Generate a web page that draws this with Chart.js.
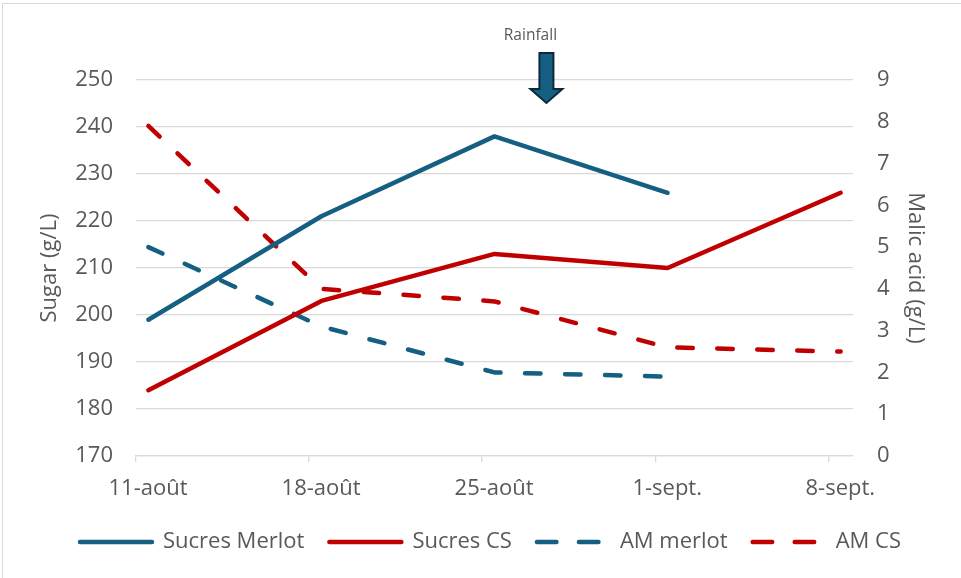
<!DOCTYPE html>
<html>
<head>
<meta charset="utf-8">
<script src="https://cdn.jsdelivr.net/npm/chart.js@4"></script>
<style>
  html, body { margin: 0; padding: 0; background: #fff; }
  #wrap { position: relative; width: 961px; height: 578px; }
  #frame {
    position: absolute; left: 2px; top: 3px; right: -5px; bottom: -5px;
    border-left: 1px solid #d9d9d9; border-top: 1px solid #d9d9d9;
    pointer-events: none;
  }
</style>
</head>
<body>
<div id="wrap">
  <canvas id="chart"></canvas>
  <div id="frame"></div>
</div>
<script>
// dates sampled, and days elapsed since 11-août
const dates = ["11-août", "18-août", "25-août", "1-sept.", "8-sept."];
const days = [0, 7, 14, 21, 28];

// sugar (g/L), left axis
const sucresMerlot = [199, 221, 238, 226, null];
const sucresCS = [184, 203, 213, 210, 226];

// malic acid (g/L), right axis
const amMerlot = [5.0, 3.1, 2.0, 1.9, null];
const amCS = [7.9, 4.0, 3.7, 2.6, 2.5];

// rainfall event, in days since 11-août
const rainfallDay = 16.6;

const BLUE = "#156082";
const RED = "#C00000";
const GREY = "#595959";
const DASH = [15.5, 24.5];

Chart.defaults.font.family = '"Open Sans", sans-serif';
Chart.defaults.color = GREY;

// each date is a one-day slot on the axis, points sit in its middle
const toPoints = (arr) => days.map((d, i) => ({ x: d + 0.5, y: arr[i] }));

function lineSet(label, arr, color, axis, dashed) {
  return {
    label,
    data: toPoints(arr),
    yAxisID: axis,
    borderColor: color,
    backgroundColor: color,
    borderWidth: 4.5,
    borderCapStyle: "round",
    borderJoinStyle: "round",
    borderDash: dashed ? DASH : [],
    pointRadius: 0,
    spanGaps: false,
  };
}

// flèche "Rainfall"
const rainfallPlugin = {
  id: "rainfall",
  afterDraw(chart) {
    const { ctx, chartArea, scales } = chart;
    const cx = scales.x.getPixelForValue(rainfallDay);
    const tip = chartArea.top + 23;
    ctx.save();
    ctx.font = '15.5px "Open Sans", sans-serif';
    ctx.fillStyle = GREY;
    ctx.textAlign = "center";
    ctx.textBaseline = "middle";
    ctx.fillText("Rainfall", cx - 16, tip - 67);

    ctx.beginPath();
    ctx.moveTo(cx - 7, tip - 50);
    ctx.lineTo(cx + 7, tip - 50);
    ctx.lineTo(cx + 7, tip - 14);
    ctx.lineTo(cx + 16, tip - 14);
    ctx.lineTo(cx, tip);
    ctx.lineTo(cx - 16, tip - 14);
    ctx.lineTo(cx - 7, tip - 14);
    ctx.closePath();
    ctx.fillStyle = BLUE;
    ctx.fill();
    ctx.lineWidth = 2;
    ctx.lineJoin = "miter";
    ctx.strokeStyle = "#0c2a3a";
    ctx.stroke();
    ctx.restore();
  },
};

new Chart(document.getElementById("chart"), {
  type: "line",
  data: {
    datasets: [
      lineSet("Sucres Merlot", sucresMerlot, BLUE, "y", false),
      lineSet("Sucres CS", sucresCS, RED, "y", false),
      lineSet("AM merlot", amMerlot, BLUE, "y1", true),
      lineSet("AM CS", amCS, RED, "y1", true),
    ],
  },
  options: {
    responsive: true,
    maintainAspectRatio: false,
    animation: false,
    layout: { padding: { top: 80, bottom: 15, left: 20, right: 0 } },
    plugins: {
      tooltip: { enabled: false },
      legend: {
        position: "bottom",
        labels: {
          usePointStyle: true,
          pointStyle: "line",
          pointStyleWidth: 72,
          padding: 25,
          color: GREY,
          font: { size: 22 },
          generateLabels(chart) {
            const items = Chart.defaults.plugins.legend.labels.generateLabels(chart);
            return items.map((it) => {
              const ds = chart.data.datasets[it.datasetIndex];
              return {
                ...it,
                lineWidth: 4.5,
                lineCap: "round",
                lineDash: ds.borderDash.length ? [19.5, 22.5] : [],
              };
            });
          },
        },
      },
    },
    scales: {
      x: {
        type: "linear",
        min: 0,
        max: 29,
        afterBuildTicks(s) {
          s.ticks = days.map((d) => ({ value: d }));
        },
        afterFit(s) {
          s.height = 50;
        },
        ticks: {
          callback: (v) => dates[days.indexOf(v)],
          labelOffset: 12,
          padding: 14,
          maxRotation: 0,
          font: { size: 22 },
          color: GREY,
        },
        grid: {
          drawOnChartArea: false,
          drawTicks: true,
          tickLength: 6,
          color: "#d9d9d9",
          lineWidth: 1.3,
        },
        border: { display: true, color: "#d9d9d9", width: 1.3 },
      },
      y: {
        position: "left",
        min: 170,
        max: 250,
        ticks: { stepSize: 10, padding: 23, font: { size: 22 }, color: GREY },
        grid: { color: "#d9d9d9", lineWidth: 1.3, drawTicks: false },
        border: { display: false },
        title: {
          display: true,
          text: "Sugar (g/L)",
          font: { size: 22 },
          color: GREY,
          padding: { top: 17, bottom: 0 },
        },
        afterFit(s) {
          s.width = 116;
        },
      },
      y1: {
        position: "right",
        min: 0,
        max: 9,
        ticks: { stepSize: 1, padding: 24, font: { size: 22 }, color: GREY },
        grid: { display: false, drawTicks: false },
        border: { display: false },
        title: {
          display: true,
          text: "Malic acid (g/L)",
          font: { size: 22 },
          color: GREY,
          padding: { top: 33, bottom: 0 },
        },
        afterFit(s) {
          s.width = 108;
        },
      },
    },
  },
  plugins: [rainfallPlugin],
});
</script>
</body>
</html>
